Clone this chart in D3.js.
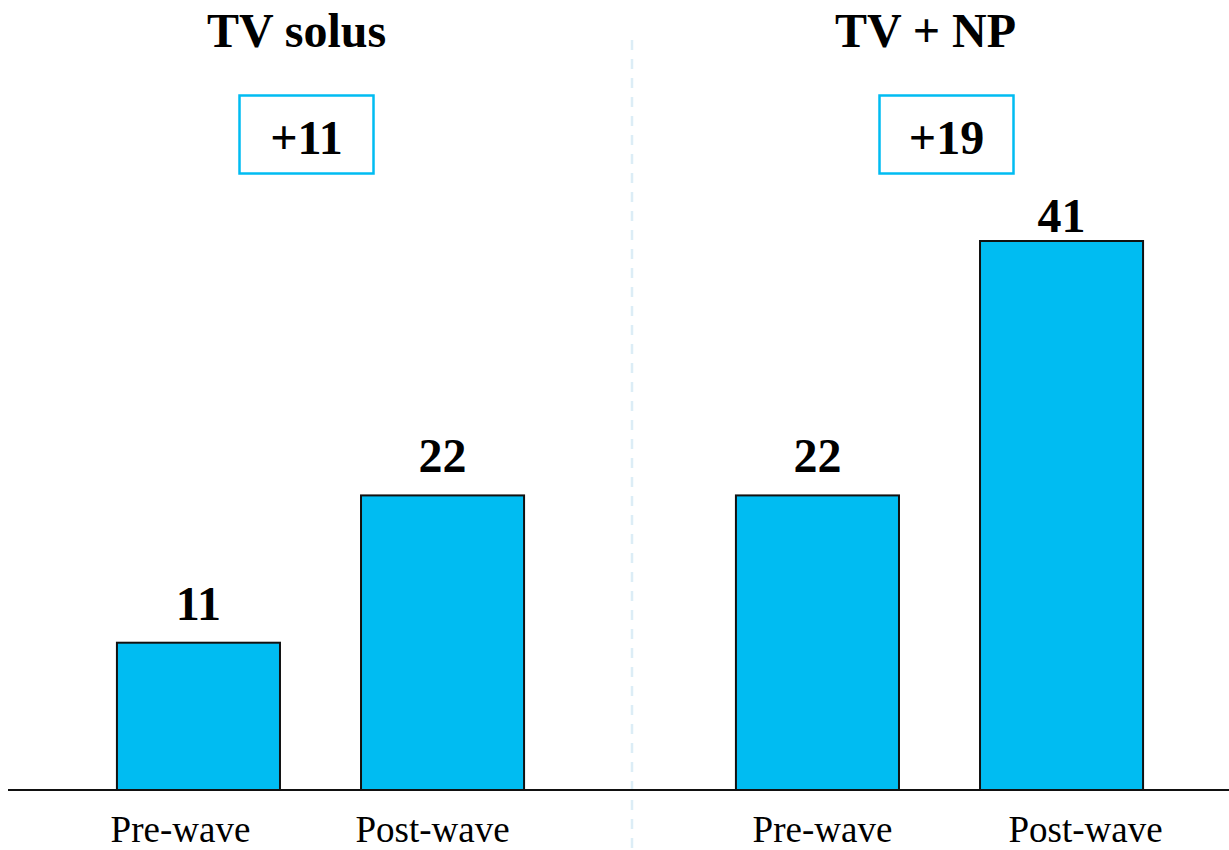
<!DOCTYPE html>
<html>
<head>
<meta charset="utf-8">
<script src="https://cdn.jsdelivr.net/npm/d3@7"></script>
<style>
  html, body { margin: 0; padding: 0; background: #fff; }
  svg { display: block; font-family: "Liberation Serif", "Times New Roman", serif; }
</style>
</head>
<body>
<svg id="chart"></svg>
<script>
const groups = ["TV solus", "TV + NP"];
const waves = ["Pre-wave", "Post-wave"];
const preWave = [11, 22];
const postWave = [22, 41];
const changes = ["+11", "+19"];

const width = 1229;
const height = 850;
const baseY = 790;
const barColor = "#00bcf2";

// small hand nudges so labels sit where the original put them
const titleShift = [-24, -14];
const boxShift = [-14, 7];
const waveLabelShift = [[-18, -10], [5, 24]];
const valueGap = [[23, 23], [23, 9]];

const svg = d3
  .select("#chart")
  .attr("width", width)
  .attr("height", height)
  .attr("viewBox", `0 0 ${width} ${height}`);

const xGroup = d3.scaleBand().domain(groups).range([11, 1249]).padding(0);

const xWave = d3
  .scaleBand()
  .domain(waves)
  .range([0, xGroup.bandwidth()])
  .paddingInner(0.332)
  .paddingOuter(0.434);

const y = d3.scaleLinear().domain([0, 41]).range([baseY, 241]);

const rows = groups.map((g, gi) => ({
  group: g,
  gi,
  change: changes[gi],
  bars: [preWave[gi], postWave[gi]].map((v, wi) => ({ wave: waves[wi], wi, value: v })),
}));

// divider between the panels
svg
  .append("line")
  .attr("x1", xGroup("TV + NP") + 2)
  .attr("x2", xGroup("TV + NP") + 2)
  .attr("y1", 40)
  .attr("y2", height)
  .style("stroke", "#dcedf6")
  .style("stroke-width", 2.5)
  .style("stroke-dasharray", "10,9");

const panel = svg
  .selectAll("g.panel")
  .data(rows)
  .enter()
  .append("g")
  .attr("class", "panel")
  .attr("transform", (d) => `translate(${xGroup(d.group)},0)`);

panel
  .append("text")
  .attr("x", (d) => xGroup.bandwidth() / 2 + titleShift[d.gi])
  .attr("y", 47)
  .attr("text-anchor", "middle")
  .style("font-size", "48px")
  .style("font-weight", "bold")
  .text((d) => d.group);

const boxW = 134;
const boxH = 78;

panel
  .append("rect")
  .attr("x", (d) => xGroup.bandwidth() / 2 + boxShift[d.gi] - boxW / 2)
  .attr("y", 95.5)
  .attr("width", boxW)
  .attr("height", boxH)
  .style("fill", "none")
  .style("stroke", barColor)
  .style("stroke-width", 2.5);

panel
  .append("text")
  .attr("x", (d) => xGroup.bandwidth() / 2 + boxShift[d.gi])
  .attr("y", 154)
  .attr("text-anchor", "middle")
  .style("font-size", "48px")
  .style("font-weight", "bold")
  .text((d) => d.change);

const bar = panel
  .selectAll("g.bar")
  .data((d) => d.bars.map((b) => ({ ...b, gi: d.gi })))
  .enter()
  .append("g")
  .attr("class", "bar");

bar
  .append("rect")
  .attr("x", (d) => xWave(d.wave))
  .attr("y", (d) => y(d.value))
  .attr("width", xWave.bandwidth())
  .attr("height", (d) => baseY - y(d.value))
  .style("fill", barColor)
  .style("stroke", "#111")
  .style("stroke-width", 2);

bar
  .append("text")
  .attr("x", (d) => xWave(d.wave) + xWave.bandwidth() / 2)
  .attr("y", (d) => y(d.value) - valueGap[d.gi][d.wi])
  .attr("text-anchor", "middle")
  .style("font-size", "48px")
  .style("font-weight", "bold")
  .text((d) => d.value);

bar
  .append("text")
  .attr("x", (d) => xWave(d.wave) + xWave.bandwidth() / 2 + waveLabelShift[d.gi][d.wi])
  .attr("y", 842)
  .attr("text-anchor", "middle")
  .style("font-size", "37px")
  .text((d) => d.wave);

// baseline
svg
  .append("line")
  .attr("x1", 8)
  .attr("x2", width)
  .attr("y1", baseY)
  .attr("y2", baseY)
  .style("stroke", "#111")
  .style("stroke-width", 2);
</script>
</body>
</html>
